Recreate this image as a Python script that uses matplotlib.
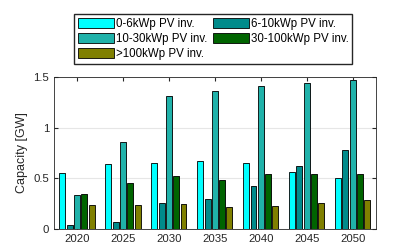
import matplotlib.pyplot as plt
import numpy as np

plt.rcParams['font.family'] = ['Liberation Sans', 'DejaVu Sans']

years = ['2020', '2025', '2030', '2035', '2040', '2045', '2050']
labels = ['0-6kWp PV inv.', '6-10kWp PV inv.', '10-30kWp PV inv.',
          '30-100kWp PV inv.', '>100kWp PV inv.']
colors = ['#00ffff', '#008b8b', '#20b2aa', '#006400', '#808000']

cap_0_6 = [0.548, 0.64, 0.654, 0.67, 0.647, 0.56, 0.50]
cap_6_10 = [0.04, 0.063, 0.25, 0.29, 0.426, 0.62, 0.78]
cap_10_30 = [0.33, 0.86, 1.318, 1.36, 1.41, 1.444, 1.477]
cap_30_100 = [0.34, 0.45, 0.52, 0.48, 0.54, 0.54, 0.54]
cap_100 = [0.23, 0.23, 0.24, 0.215, 0.228, 0.254, 0.284]
series = [cap_0_6, cap_6_10, cap_10_30, cap_30_100, cap_100]

fig = plt.figure(figsize=(4.15, 2.49), dpi=100)
ax = fig.add_axes([54 / 415, 1 - 228.7 / 249, (375.7 - 54) / 415, (228.7 - 77.3) / 249])

x = np.arange(len(years))
pitch = 0.159
width = 0.13
handles = []
for j, (vals, c, lab) in enumerate(zip(series, colors, labels)):
    pos = x + (j - 2) * pitch
    # grey shadow like the original
    ax.bar(pos + 0.02, vals, width, color='#b0b0b0', edgecolor='none', zorder=2)
    h = ax.bar(pos, vals, width, color=c, edgecolor='black', linewidth=0.6,
               label=lab, zorder=3)
    handles.append(h)

ax.set_xlim(-0.5, 6.5)
ax.set_ylim(0, 1.5)
ax.set_xticks(x)
ax.set_xticklabels(years)
ax.set_yticks([0, 0.5, 1, 1.5])
ax.set_yticklabels(['0', '0.5', '1', '1.5'])
ax.set_ylabel('Capacity [GW]', fontsize=9, color='#262626')
ax.tick_params(axis='both', which='major', labelsize=8.2, direction='in',
               top=True, right=True, length=3, colors='#262626')
ax.yaxis.grid(True, color='#e6e6e6', linewidth=0.8, zorder=0)
ax.set_axisbelow(True)
for s in ax.spines.values():
    s.set_color('#262626')
    s.set_linewidth(0.6)

order = [0, 2, 4, 1, 3]
fig.legend([handles[i] for i in order], [labels[i] for i in order],
           loc='upper left', bbox_to_anchor=(74.3 / 415, 1 - 14 / 249),
           ncol=2, fontsize=8.3, handlelength=3.1, handleheight=0.95,
           handletextpad=0.15, columnspacing=0.55, labelspacing=0.27,
           borderpad=0.33, borderaxespad=0, fancybox=False,
           edgecolor='#262626', framealpha=1)

plt.savefig('out.png', dpi=100)
